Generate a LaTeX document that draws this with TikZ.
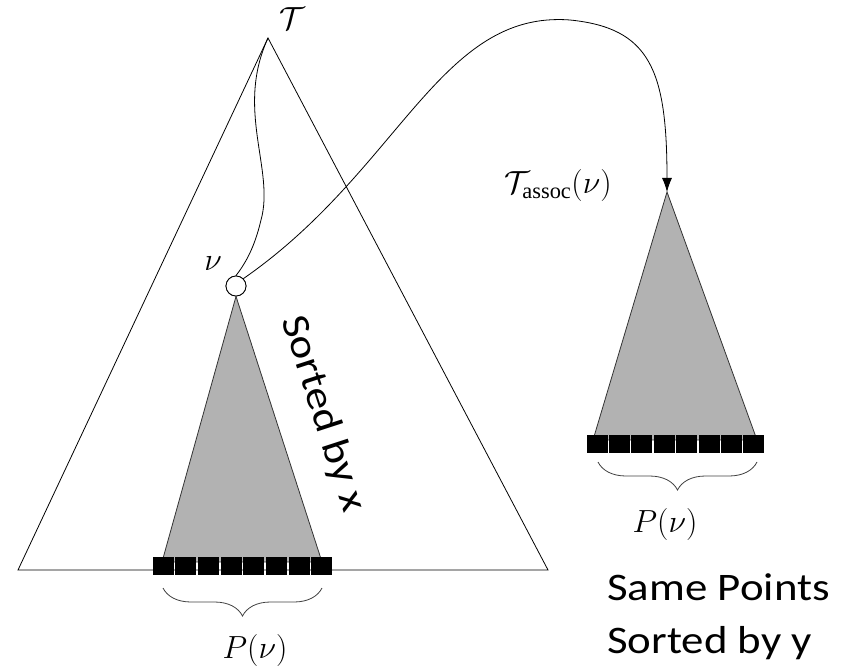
\RequirePackage{fix-cm}
\documentclass[tikz,border=0pt]{standalone}
\usepackage{amsmath}
\usepackage{fontspec}
\setmainfont{Liberation Serif}
\newfontfamily\calibri[FakeStretch=1.15]{Carlito}
\usetikzlibrary{positioning, arrows.meta, decorations.pathreplacing}
\tikzset
{
    pt/.style={draw=none, fill=black, minimum width=21pt, minimum height=18pt, inner sep=0pt}, % the point squares
    subtree/.style={draw=black!80, fill=gray!60, line width=0.8pt},
    pbrace/.style={draw=black!75, line width=0.8pt, decorate, decoration={brace, mirror, amplitude=28pt}},
    mathlbl/.style={font=\fontsize{32}{36}\selectfont, inner sep=1pt},
    notelbl/.style={font=\calibri\fontsize{39}{53}\selectfont, inner sep=0pt},
}
\begin{document}
\begin{tikzpicture}[x=1pt, y=-1pt, line width=0.8pt]
    \useasboundingbox (0,0) rectangle (851,671);
    % Arvore principal
    \coordinate (root) at (268,38);
    \coordinate (bl) at (18,570);
    \coordinate (br) at (548,570);
    \draw (root) -- (bl) -- (br) -- cycle;
    \node[mathlbl] (tname) at (292,19) {$\mathcal{T}$};

    % Subarvore de v
    \coordinate (sl) at (162,562);
    \coordinate (sr) at (322,562);
    \node[circle, draw, fill=white, minimum size=20pt, inner sep=0pt] (v) at (236,286) {};
    \draw[subtree] (v.south) -- (sl) -- (sr) -- cycle;
    \node[circle, draw, fill=white, minimum size=20pt, inner sep=0pt] at (v) {};
    \node[mathlbl] (vname) at (213,264) {$\nu$};
    \draw (root) .. controls (235,110) and (275,170) .. (261,220) .. controls (254,250) and (244,265) .. (v.north);

    % Pontos da subarvore
    \foreach \i in {0,...,7}
        \node[pt] (p\i) at (163+22.7*\i,566) {};
    \draw[pbrace] (163,588) -- (322,588);
    \node[mathlbl] (pv) at (255,650) {$P(\nu)$};

    % Arvore associada
    \coordinate (atop) at (667,192);
    \coordinate (al) at (593,440);
    \coordinate (ar) at (757,440);
    \draw[subtree] (atop) -- (al) -- (ar) -- cycle;
    \foreach \i in {0,...,7}
        \node[pt] (q\i) at (597+22.4*\i,444) {};
    \draw[pbrace] (598,462) -- (757,462);
    \node[mathlbl] (pva) at (665,524) {$P(\nu)$};
    \node[mathlbl, anchor=east] (tassoc) at (613,186) {$\mathcal{T}_{\text{assoc}}(\nu)$};

    % Ligacao v -> T_assoc(v)
    \draw[-{Latex[length=14pt, width=10pt]}] (v.north east) .. controls (400,170) and (440,10) .. (570,20)
        .. controls (650,28) and (667,70) .. (atop);

    % Notas
    \node[notelbl, rotate=-72] (sortx) at (323,414) {Sorted by x};
    \node[notelbl, align=left, anchor=north west] (sorty) at (607,573) {Same Points\\Sorted by y};
\end{tikzpicture}
\end{document}
